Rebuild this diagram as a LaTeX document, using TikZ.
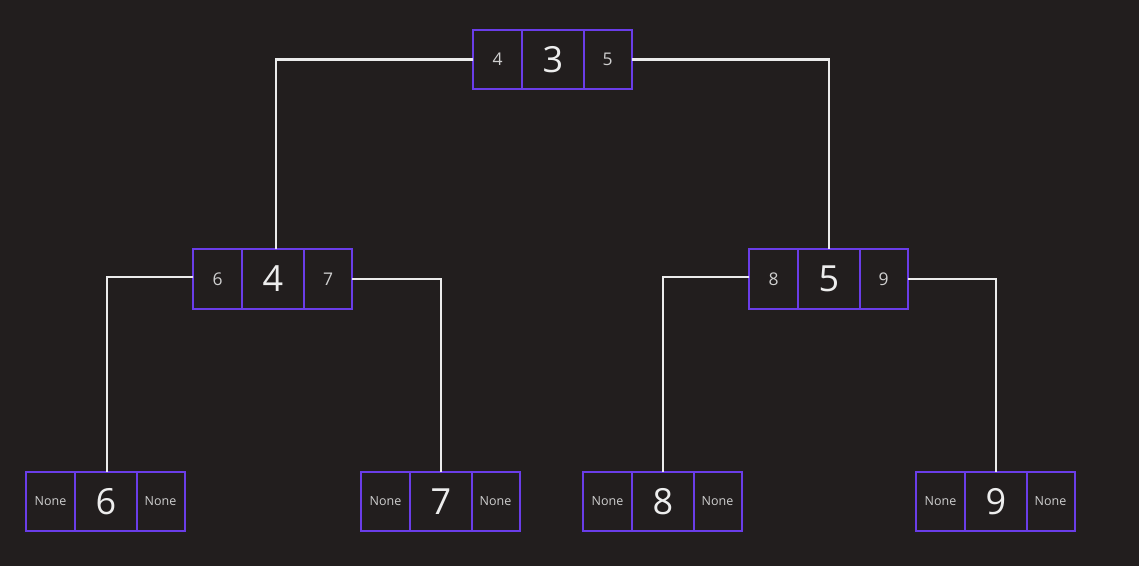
\documentclass[tikz,border=0pt]{standalone}
\usepackage{fontspec}
\setmainfont{Open Sans}
\definecolor{bg}{HTML}{221E1E}
\definecolor{cellpurple}{HTML}{6A3DE8}
\definecolor{txt}{HTML}{EDEDED}
\definecolor{txtdim}{HTML}{CFCFCF}
\tikzset{
  cellbase/.style={fill=bg, minimum height=59pt, inner sep=0pt, anchor=center},
  sidecell/.style={cellbase, minimum width=48pt, text=txtdim, font=\fontsize{17.5}{17.5}\selectfont},
  nonecell/.style={cellbase, minimum width=48pt, text=txtdim, font=\fontsize{12.5}{12.5}\selectfont},
  midcell/.style={cellbase, minimum width=62pt, text=txt, font=\fontsize{36}{36}\selectfont},
  cellframe/.style={draw=cellpurple, line width=1.8pt},
  edge/.style={draw=white!92!black, line width=2.8pt}
}
\begin{document}
\begin{tikzpicture}[x=1pt,y=-1pt]
\fill[bg] (0,0) rectangle (1139,566);
\useasboundingbox (0,0) rectangle (1139,566);
% root
\node[midcell] (r-m) at (553,59.5) {3};
\node[sidecell] (r-l) at (497.5,59.5) {4};
\node[sidecell] (r-r) at (607.5,59.5) {5};
% level 2
\node[midcell] (a-m) at (273,279) {4};
\node[sidecell] (a-l) at (217.5,279) {6};
\node[sidecell] (a-r) at (328,279) {7};
\node[midcell] (b-m) at (829,279) {5};
\node[sidecell] (b-l) at (773.5,279) {8};
\node[sidecell] (b-r) at (883.5,279) {9};
% leaves
\node[midcell] (c-m) at (106,501.5) {6};
\node[nonecell] (c-l) at (50.5,501.5) {None};
\node[nonecell] (c-r) at (160.5,501.5) {None};
\node[midcell] (d-m) at (441,501.5) {7};
\node[nonecell] (d-l) at (385.5,501.5) {None};
\node[nonecell] (d-r) at (495.5,501.5) {None};
\node[midcell] (e-m) at (663,501.5) {8};
\node[nonecell] (e-l) at (607.5,501.5) {None};
\node[nonecell] (e-r) at (717.5,501.5) {None};
\node[midcell] (f-m) at (996,501.5) {9};
\node[nonecell] (f-l) at (940.5,501.5) {None};
\node[nonecell] (f-r) at (1050.5,501.5) {None};
% frames
\foreach \n in {r,a,b,c,d,e,f}{
  \draw[cellframe] (\n-l.north west) rectangle (\n-r.south east);
  \draw[cellframe] (\n-m.north west) -- (\n-m.south west);
  \draw[cellframe] (\n-m.north east) -- (\n-m.south east);
}
% connectors
\draw[edge] (r-l.west) -| ([xshift=3pt]a-m.north);
\draw[edge] (r-r.east) -| (b-m.north);
\draw[edge] ([yshift=2pt]a-l.west) -| ([xshift=1pt]c-m.north);
\draw[edge] (a-r.east) -| (d-m.north);
\draw[edge] ([yshift=2pt]b-l.west) -| (e-m.north);
\draw[edge] (b-r.east) -| (f-m.north);
\end{tikzpicture}
\end{document}
